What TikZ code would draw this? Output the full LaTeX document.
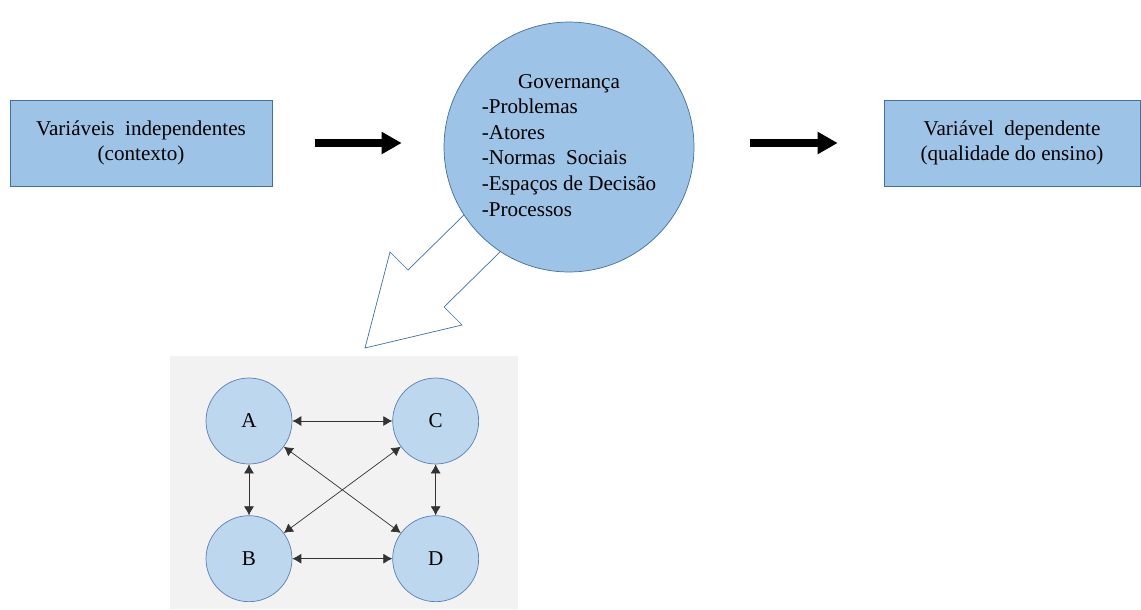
\documentclass[tikz,border=0pt]{standalone}
\usepackage{fontspec}
\setmainfont{Liberation Serif}
\usepackage{tikz}
\usetikzlibrary{arrows.meta,positioning}

\definecolor{boxblue}{HTML}{9DC3E6}
\definecolor{edgeblue}{HTML}{41719C}
\definecolor{lightblue}{HTML}{BDD7EE}
\definecolor{ringblue}{HTML}{5A7FB8}
\definecolor{panelgray}{HTML}{F2F2F2}

\begin{document}
\begin{tikzpicture}[
    x=0.02cm, y=-0.02cm,
    font=\fontsize{12}{14.6}\selectfont,
    varbox/.style={rectangle, minimum height=1.72cm, text centered, align=center, draw=edgeblue, fill=boxblue},
    govcircle/.style={circle, minimum size=5cm, inner sep=0pt, draw=edgeblue, fill=boxblue},
    actor/.style={circle, minimum size=1.72cm, inner sep=0pt, draw=ringblue, fill=lightblue},
    bigarrow/.style={line width=4pt, -{Triangle[length=0.4cm,width=0.42cm]}},
    link/.style={black!80, <->, >={Latex[length=1.8mm,width=2mm]}}
]
\useasboundingbox (0,0) rectangle (1141,609);

% Panel behind the small graph
\fill[panelgray] (170,356) rectangle (518,609);

% Hollow arrow from the circle down to the panel
\draw[edgeblue, fill=white] (466,213) -- (408,270) -- (390,252) -- (365,348)
    -- (462,325) -- (444,307) -- (502,250) -- cycle;

% Nodes
\node (indep) [varbox, minimum width=5.24cm] at (141,143) {Variáveis\ \ independentes\\(contexto)};
\node (gov) [govcircle] at (569,147) {\begin{tabular}{@{}l@{}}
    \multicolumn{1}{c}{Governança}\\
    -Problemas\\
    -Atores\\
    -Normas\ \ Sociais\\
    -Espaços de Decisão\\
    -Processos
  \end{tabular}};
\node (dep) [varbox, minimum width=5.12cm] at (1012,143) {Variável\ \ dependente\\(qualidade do ensino)};

\node (A) [actor] at (249,421) {A};
\node (C) [actor, right=2cm of A] {C};
\node (B) [actor, below=1.02cm of A] {B};
\node (D) [actor, below=1.02cm of C] {D};

% Arrows
\draw [bigarrow, shorten <=0.86cm, shorten >=0.84cm] (indep.east) -- (indep.east -| gov.west);
\draw [bigarrow, shorten <=1.12cm, shorten >=0.92cm] (dep.west -| gov.east) -- (dep.west);

\draw [link] (A) -- (C);
\draw [link] (B) -- (D);
\draw [link] (A) -- (B);
\draw [link] (C) -- (D);
\draw [link] (A) -- (D);
\draw [link] (C) -- (B);

\end{tikzpicture}
\end{document}
